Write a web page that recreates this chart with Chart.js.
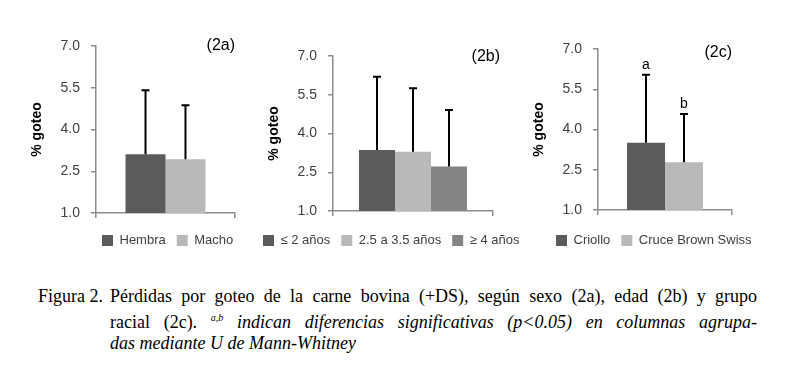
<!DOCTYPE html>
<html>
<head>
<meta charset="utf-8">
<script src="https://cdn.jsdelivr.net/npm/chart.js@4.4.1/dist/chart.umd.min.js"></script>
<style>
  body { margin: 0; background: #fff; }
  #page { position: relative; width: 785px; height: 376px; overflow: hidden; background: #fff; }
  canvas { position: absolute; top: 0; }
  .cap { position: absolute; font-family: "Liberation Serif", "Times New Roman", serif; font-size: 18px; color: #000; line-height: 21px; }
  .line { text-align: justify; text-align-last: justify; white-space: nowrap; }
  .line.last { text-align-last: left; }
</style>
</head>
<body>
<div id="page">
  <canvas id="c2a" style="left:0px" width="262" height="262"></canvas>
  <canvas id="c2b" style="left:262px" width="272" height="262"></canvas>
  <canvas id="c2c" style="left:520px" width="265" height="262"></canvas>
  <div class="cap" style="left:38px; top:286px;">Figura 2.</div>
  <div class="cap" style="left:110px; top:286px; width:647px;">
    <div class="line">Pérdidas por goteo de la carne bovina (+DS), según sexo (2a), edad (2b) y grupo</div>
    <div class="line">racial (2c). <sup style="font-size:10px"><i>a,b</i></sup> <i>indican diferencias significativas (p&lt;0.05) en columnas agrupa-</i></div>
    <div class="line last"><i>das mediante U de Mann-Whitney</i></div>
  </div>
</div>
<script>
// 2a: sexo
var sexoLabels = ['Hembra', 'Macho'];
var sexoMedia = [3.11, 2.93];
var sexoDS = [2.30, 1.94];

// 2b: edad
var edadLabels = ['≤ 2 años', '2.5 a 3.5 años', '≥ 4 años'];
var edadMedia = [3.36, 3.29, 2.72];
var edadDS = [2.84, 2.46, 2.19];

// 2c: grupo racial
var razaLabels = ['Criollo', 'Cruce Brown Swiss'];
var razaMedia = [3.51, 2.78];
var razaDS = [2.53, 1.80];
var razaLetras = ['a', 'b'];

var yTicks = [1.0, 2.5, 4.0, 5.5, 7.0];
var colores = ['#5b5b5b', '#b9b9b9', '#848484'];

var tickFont = { family: 'Liberation Sans', size: 14 };

// error bars + letters + panel tag
var extras = {
  id: 'extras',
  afterDatasetsDraw: function(chart, args, opts) {
    var ctx = chart.ctx;
    var y = chart.scales.y;
    ctx.save();
    chart.data.datasets.forEach(function(ds, i) {
      var bar = chart.getDatasetMeta(i).data[0];
      var top = y.getPixelForValue(ds.data[0] + ds.sd);
      ctx.strokeStyle = '#000';
      ctx.lineWidth = 2;
      ctx.beginPath();
      ctx.moveTo(bar.x, bar.y);
      ctx.lineTo(bar.x, top);
      ctx.moveTo(bar.x - 4, top);
      ctx.lineTo(bar.x + 4, top);
      ctx.stroke();
      if (ds.letra) {
        ctx.fillStyle = '#000';
        ctx.font = '14px "Liberation Sans"';
        ctx.textAlign = 'center';
        ctx.textBaseline = 'bottom';
        ctx.fillText(ds.letra, bar.x, top - 3);
      }
    });
    ctx.fillStyle = '#000';
    ctx.font = '16px "Liberation Sans"';
    ctx.textAlign = 'right';
    ctx.textBaseline = 'middle';
    ctx.fillText(opts.tag, chart.chartArea.right + opts.tagDx, chart.chartArea.top + opts.tagDy);
    ctx.restore();
  },
  afterLayout: function(chart, args, opts) {
    // one legend row, placed like in the figure
    var lg = chart.legend;
    if (!lg) return;
    lg.left = opts.legendLeft - lg.options.labels.padding;
    lg.right = lg.left + 500;
    lg.top = opts.legendTop;
  }
};

function makePanel(id, labels, media, ds, letras, tag, area, catPct, tagDx, tagDy, legendLeft) {
  var datasets = labels.map(function(l, i) {
    return {
      label: l,
      data: [media[i]],
      sd: ds[i],
      letra: letras ? letras[i] : null,
      backgroundColor: colores[i],
      borderWidth: 0,
      categoryPercentage: catPct,
      barPercentage: 1.0
    };
  });
  var chart = new Chart(document.getElementById(id), {
    type: 'bar',
    data: { labels: [''], datasets: datasets },
    options: {
      responsive: false,
      animation: false,
      events: [],
      layout: { padding: { left: 10, right: 20, top: 40, bottom: 10 } },
      scales: {
        x: {
          grid: { display: true, drawOnChartArea: false, tickLength: 5, color: '#8c8c8c', lineWidth: 1.5 },
          border: { display: true, color: '#8c8c8c', width: 1.5 },
          ticks: { display: false }
        },
        y: {
          min: 1, max: 7,
          afterBuildTicks: function(s) { s.ticks = yTicks.map(function(v) { return { value: v }; }); },
          grid: { display: true, drawOnChartArea: false, tickLength: 5, color: '#8c8c8c', lineWidth: 1.5 },
          border: { display: true, color: '#8c8c8c', width: 1.5 },
          ticks: { color: '#404040', font: tickFont, padding: 11, callback: function(v) { return v.toFixed(1); } },
          title: { display: true, text: '% goteo', color: '#000', font: { family: 'Liberation Sans', size: 14, weight: 'bold' }, padding: { top: 0, bottom: 4 } }
        }
      },
      plugins: {
        legend: {
          position: 'bottom',
          align: 'start',
          labels: { boxWidth: 11, boxHeight: 11, padding: 11, color: '#404040', font: { family: 'Liberation Sans', size: 13 } }
        },
        tooltip: { enabled: false },
        extras: { tag: tag, tagDx: tagDx, tagDy: tagDy, legendLeft: legendLeft, legendTop: 223 }
      }
    },
    plugins: [extras]
  });
  // move the plot area onto the figure's frame (legend wrapping may shift it, so repeat)
  for (var k = 0; k < 5; k++) {
    var a = chart.chartArea;
    var p = chart.options.layout.padding;
    if (a.left === area.left && a.right === area.right && a.top === area.top && a.bottom === area.bottom) break;
    chart.options.layout.padding = {
      left: p.left + (area.left - a.left),
      right: p.right + (a.right - area.right),
      top: p.top + (area.top - a.top),
      bottom: p.bottom + (a.bottom - area.bottom)
    };
    chart.update('none');
  }
  return chart;
}

makePanel('c2a', sexoLabels, sexoMedia, sexoDS, null, '(2a)',
  { left: 96, right: 235, top: 46, bottom: 213 }, 0.575, 0, 0, 102);
makePanel('c2b', edadLabels, edadMedia, edadDS, null, '(2b)',
  { left: 71, right: 231, top: 56, bottom: 211 }, 0.675, 7, 1, 1);
makePanel('c2c', razaLabels, razaMedia, razaDS, razaLetras, '(2c)',
  { left: 78, right: 212, top: 49, bottom: 210 }, 0.567, 0, 4, 36);
</script>
</body>
</html>
